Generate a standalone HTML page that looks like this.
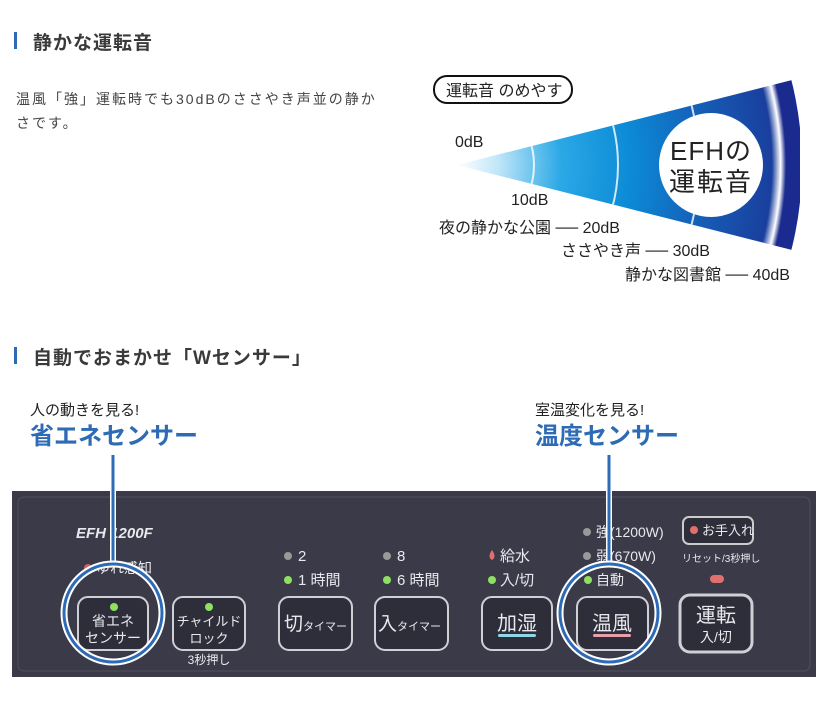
<!DOCTYPE html>
<html><head><meta charset="utf-8"><style>
html,body{margin:0;padding:0;background:#fff;}
body{width:830px;height:723px;position:relative;overflow:hidden;font-family:"Liberation Sans","Noto Sans CJK JP",sans-serif;}
.a{position:absolute;white-space:nowrap;}
.h{font-size:19px;font-weight:bold;color:#3a3a3a;letter-spacing:1px;}
.bar{position:absolute;width:3px;height:17px;background:#2e6bb5;}
</style></head><body>
<div class="bar" style="left:14px;top:32px"></div>
<div class="a h" style="left:33px;top:28px">静かな運転音</div>
<div class="a" style="left:16px;top:87px;font-size:14px;letter-spacing:2px;color:#444;line-height:24px">温風「強」運転時でも30dBのささやき声並の静か<br>さです。</div>
<div class="bar" style="left:14px;top:347px"></div>
<div class="a h" style="left:33px;top:343px">自動でおまかせ「Wセンサー」</div>

<svg class="a" style="left:0;top:0" width="830" height="723">
<defs>
<radialGradient id="g" gradientUnits="userSpaceOnUse" cx="457" cy="165" r="350">
<stop offset="0" stop-color="#ffffff"/>
<stop offset="0.12" stop-color="#bfe6f8"/>
<stop offset="0.3" stop-color="#2aa8e6"/>
<stop offset="0.5" stop-color="#0c8ad6"/>
<stop offset="0.7" stop-color="#1560b8"/>
<stop offset="0.9" stop-color="#1a3f9e"/>
<stop offset="0.925" stop-color="#ffffff"/>
<stop offset="0.94" stop-color="#1a2a8e"/>
<stop offset="1" stop-color="#1a2a8e"/>
</radialGradient>
<clipPath id="c"><path d="M457,165 L800,78 L800,252 Z"/></clipPath>
</defs>
<g clip-path="url(#c)">
<circle cx="457" cy="165" r="345" fill="url(#g)"/>
<g fill="none" stroke="#fff" stroke-opacity="0.8" stroke-width="2">
<circle cx="457" cy="165" r="77"/><circle cx="457" cy="165" r="161"/><circle cx="457" cy="165" r="242"/>
</g>
</g>
<circle cx="711" cy="165" r="52" fill="#fff"/>
<text x="711" y="160" font-size="26" text-anchor="middle" fill="#222" letter-spacing="1" font-family="Liberation Sans,Noto Sans CJK JP,sans-serif">EFHの</text>
<text x="711" y="191" font-size="26" text-anchor="middle" fill="#222" letter-spacing="2" font-family="Liberation Sans,Noto Sans CJK JP,sans-serif">運転音</text>
<rect x="434" y="76" width="138" height="27" rx="13" fill="#fff" stroke="#111" stroke-width="2"/>
<g font-family="Liberation Sans,Noto Sans CJK JP,sans-serif" fill="#222" font-size="16">
<text x="446" y="96" font-size="16">運転音 のめやす</text>
<text x="455" y="147">0dB</text>
<text x="511" y="205">10dB</text>
<text x="439" y="233">夜の静かな公園 ── 20dB</text>
<text x="561" y="256">ささやき声 ── 30dB</text>
<text x="625" y="280">静かな図書館 ── 40dB</text>
<text x="30" y="415" font-size="15">人の動きを見る!</text>
<text x="535" y="415" font-size="15">室温変化を見る!</text>
<text x="30" y="444" font-size="24" font-weight="bold" fill="#2e6bb5">省エネセンサー</text>
<text x="535" y="444" font-size="24" font-weight="bold" fill="#2e6bb5">温度センサー</text>
</g>

<rect x="12" y="491" width="804" height="186" fill="#3a3a48"/>
<rect x="18" y="497" width="792" height="174" rx="6" fill="none" stroke="#50505e"/>
<g font-family="Liberation Sans,Noto Sans CJK JP,sans-serif" fill="#e8e8ee">
<text x="76" y="538" font-size="15" font-style="italic" font-weight="bold">EFH 1200F</text>
<circle cx="88" cy="568" r="4" fill="#d06060"/>
<text x="96" y="573" font-size="14">ゆれ感知</text>
<g font-size="15">
<circle cx="288" cy="556" r="4" fill="#999"/><text x="298" y="561">2</text>
<circle cx="288" cy="580" r="4" fill="#8fe060"/><text x="298" y="585">1 時間</text>
<circle cx="387" cy="556" r="4" fill="#999"/><text x="397" y="561">8</text>
<circle cx="387" cy="580" r="4" fill="#8fe060"/><text x="397" y="585">6 時間</text>
<path d="M492,550 q-5,7 0,10 q5,-3 0,-10z" fill="#e07070"/><text x="500" y="561">給水</text>
<circle cx="492" cy="580" r="4" fill="#8fe060"/><text x="500" y="585">入/切</text>
<circle cx="587" cy="532" r="4" fill="#999"/><text x="596" y="537" font-size="14">強(1200W)</text>
<circle cx="587" cy="556" r="4" fill="#999"/><text x="596" y="561" font-size="14">弱(670W)</text>
<circle cx="588" cy="580" r="4" fill="#8fe060"/><text x="596" y="585" font-size="14">自動</text>
</g>
<rect x="683" y="517" width="70" height="27" rx="6" fill="#2e2e3a" stroke="#ccc" stroke-width="2"/>
<circle cx="694" cy="530" r="4" fill="#e07070"/><text x="702" y="535" font-size="13">お手入れ</text>
<text x="682" y="562" font-size="10">リセット/3秒押し</text>
<rect x="710" y="575" width="14" height="8" rx="4" fill="#e07070"/>
<g fill="#2e2e3a" stroke="#cfcfd6" stroke-width="2">
<rect x="78" y="597" width="70" height="53" rx="10"/>
<rect x="173" y="597" width="72" height="53" rx="10"/>
<rect x="279" y="597" width="73" height="53" rx="10"/>
<rect x="375" y="597" width="73" height="53" rx="10"/>
<rect x="482" y="597" width="70" height="53" rx="10"/>
<rect x="577" y="597" width="71" height="53" rx="10"/>
<rect x="680" y="595" width="72" height="57" rx="10" stroke-width="3"/>
</g>
<circle cx="114" cy="607" r="4" fill="#8fe060"/>
<circle cx="209" cy="607" r="4" fill="#8fe060"/>
<text x="113" y="626" font-size="14" text-anchor="middle">省エネ</text>
<text x="113" y="643" font-size="14" text-anchor="middle">センサー</text>
<text x="209" y="626" font-size="13" text-anchor="middle">チャイルド</text>
<text x="209" y="643" font-size="13" text-anchor="middle">ロック</text>
<text x="209" y="664" font-size="12" text-anchor="middle">3秒押し</text>
<text x="284" y="630" font-size="19">切<tspan font-size="11">タイマー</tspan></text>
<text x="378" y="630" font-size="19">入<tspan font-size="11">タイマー</tspan></text>
<text x="517" y="630" font-size="20" text-anchor="middle">加湿</text>
<rect x="498" y="634" width="38" height="3" rx="1.5" fill="#8fd6e8"/>
<text x="612" y="630" font-size="20" text-anchor="middle">温風</text>
<rect x="593" y="634" width="38" height="3" rx="1.5" fill="#e8a0a8"/>
<text x="716" y="622" font-size="20" text-anchor="middle">運転</text>
<text x="716" y="642" font-size="14" text-anchor="middle">入/切</text>
</g>
<g fill="none">
<line x1="113" y1="455" x2="113" y2="565" stroke="#fff" stroke-width="6"/>
<line x1="113" y1="455" x2="113" y2="565" stroke="#2e6bb5" stroke-width="3"/>
<line x1="609" y1="455" x2="609" y2="565" stroke="#fff" stroke-width="6"/>
<line x1="609" y1="455" x2="609" y2="565" stroke="#2e6bb5" stroke-width="3"/>
<circle cx="113" cy="613" r="49" stroke="#fff" stroke-width="7"/>
<circle cx="113" cy="613" r="49" stroke="#2e6bb5" stroke-width="3"/>
<circle cx="609" cy="613" r="49" stroke="#fff" stroke-width="7"/>
<circle cx="609" cy="613" r="49" stroke="#2e6bb5" stroke-width="3"/>
</g>
</svg>
</body></html>
